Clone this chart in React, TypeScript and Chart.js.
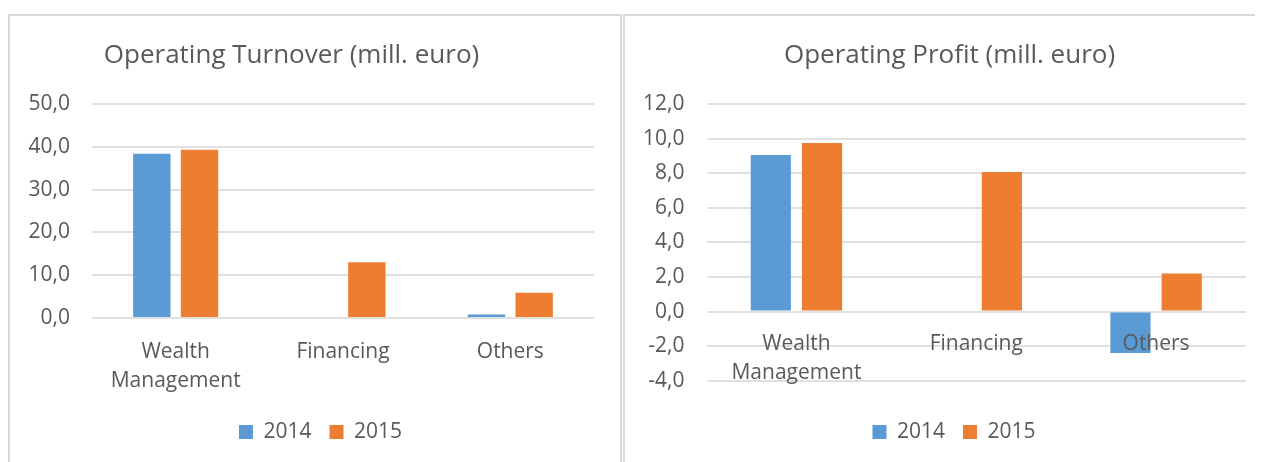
import React, { useEffect, useRef } from "react";
import { Chart, registerables } from "chart.js";

Chart.register(...registerables);

// ---- data ----
const categories: (string | string[])[] = [["Wealth", "Management"], "Financing", "Others"];
const seriesLabels = ["2014", "2015"];
const turnover2014: (number | null)[] = [38.4, null, 0.8];
const turnover2015: (number | null)[] = [39.3, 13.0, 5.9];
const profit2014: (number | null)[] = [9.05, null, -2.4];
const profit2015: (number | null)[] = [9.74, 8.07, 2.2];
const turnoverTicks = [0, 10, 20, 30, 40, 50];
const profitTicks = [-4, -2, 0, 2, 4, 6, 8, 10, 12];
const turnoverTitle = "Operating Turnover (mill. euro)";
const profitTitle = "Operating Profit (mill. euro)";

const BLUE = "#5B9BD5";
const ORANGE = "#ED7D31";
const TEXT = "#595959";
const GRID = "#E0E0E0";
const FONT = "'Open Sans', 'Noto Sans', sans-serif";

type ChartSpec = {
  d2014: (number | null)[];
  d2015: (number | null)[];
  ticks: number[];
  padLeft: number;
  padRight: number;
  yWidth: number;
  rightGap: number;
  xHeight: number;
  xPad: number;
  xAtZero: boolean;
};

function makeConfig(spec: ChartSpec): any {
  const min = spec.ticks[0];
  const max = spec.ticks[spec.ticks.length - 1];
  const step = spec.ticks[1] - spec.ticks[0];
  const scales: any = {
    x: {
      type: "category",
      position: spec.xAtZero ? { y: 0 } : "bottom",
      grid: { display: false, drawTicks: false },
      border: { display: false },
      ticks: {
        color: TEXT,
        font: { family: FONT, size: 21, lineHeight: 1.38 },
        padding: spec.xPad,
        maxRotation: 0,
        autoSkip: false,
        z: 1,
      },
      afterFit: (s: any) => {
        s.height = spec.xAtZero ? 0 : spec.xHeight;
      },
    },
    y: {
      type: "linear",
      position: "left",
      min,
      max,
      ticks: {
        stepSize: step,
        color: TEXT,
        font: { family: FONT, size: 21 },
        padding: 22,
        callback: (v: any) => Number(v).toFixed(1).replace(".", ","),
      },
      grid: { color: GRID, lineWidth: 2, drawTicks: false },
      border: { display: false },
      afterFit: (s: any) => {
        s.width = spec.yWidth;
      },
    },
    // empty spacer on the right side of the plot
    yGap: {
      type: "linear",
      position: "right",
      display: true,
      grid: { display: false, drawTicks: false },
      border: { display: false },
      ticks: { display: false },
      afterFit: (s: any) => {
        s.width = spec.rightGap;
      },
    },
  };
  if (spec.xAtZero) {
    // spacer axis reserving room between plot and legend
    scales.xSpace = {
      type: "category",
      position: "bottom",
      display: true,
      grid: { display: false, drawTicks: false },
      border: { display: false },
      ticks: { display: false },
      afterFit: (s: any) => {
        s.height = spec.xHeight;
      },
    };
  }
  return {
    type: "bar",
    data: {
      labels: categories,
      datasets: [
        {
          label: seriesLabels[0],
          data: spec.d2014,
          backgroundColor: BLUE,
          borderColor: BLUE,
          borderWidth: 0,
          categoryPercentage: 0.57,
          barPercentage: 0.784,
          xAxisID: "x",
          yAxisID: "y",
        },
        {
          label: seriesLabels[1],
          data: spec.d2015,
          backgroundColor: ORANGE,
          borderColor: ORANGE,
          borderWidth: 0,
          categoryPercentage: 0.57,
          barPercentage: 0.784,
          xAxisID: "x",
          yAxisID: "y",
        },
      ],
    },
    options: {
      animation: false,
      responsive: false,
      devicePixelRatio: 1,
      layout: { padding: { top: 88, right: spec.padRight, bottom: 9.5, left: spec.padLeft } },
      font: { family: FONT },
      scales,
      plugins: {
        title: { display: false },
        tooltip: { enabled: false },
        legend: {
          position: "bottom",
          labels: {
            boxWidth: 14,
            boxHeight: 14,
            padding: 18,
            color: TEXT,
            font: { family: FONT, size: 21 },
          },
        },
      },
    },
  };
}

function BarPanel(props: { spec: ChartSpec; width: number; height: number }) {
  const ref = useRef<HTMLCanvasElement | null>(null);
  useEffect(() => {
    if (!ref.current) return;
    const chart = new Chart(ref.current, makeConfig(props.spec));
    return () => chart.destroy();
  }, []);
  return (
    <canvas
      ref={ref}
      width={props.width}
      height={props.height}
      style={{ display: "block", width: props.width, height: props.height }}
    />
  );
}

const titleStyle = (cx: number): React.CSSProperties => ({
  position: "absolute",
  left: cx - 300,
  width: 600,
  top: 27.5,
  textAlign: "center",
  fontFamily: FONT,
  fontSize: 26,
  lineHeight: "34px",
  color: TEXT,
  whiteSpace: "nowrap",
});

export default function App() {
  const leftSpec: ChartSpec = {
    d2014: turnover2014,
    d2015: turnover2015,
    ticks: turnoverTicks,
    padLeft: 11,
    padRight: 0,
    yWidth: 71,
    rightGap: 26,
    xHeight: 85.5,
    xPad: 20,
    xAtZero: false,
  };
  const rightSpec: ChartSpec = {
    d2014: profit2014,
    d2015: profit2015,
    ticks: profitTicks,
    padLeft: 0,
    padRight: 2,
    yWidth: 81.5,
    rightGap: 37,
    xHeight: 22.8,
    xPad: 18,
    xAtZero: true,
  };
  return (
    <div style={{ position: "relative", width: 1255, height: 454, overflow: "hidden", background: "#fff" }}>
      <div
        style={{
          position: "absolute",
          left: 0,
          top: 6,
          width: 610,
          height: 470,
          border: "2px solid #D9D9D9",
          borderBottom: "none",
          overflow: "hidden",
        }}
      >
        <BarPanel spec={leftSpec} width={610} height={446} />
      </div>
      <div
        style={{
          position: "absolute",
          left: 615,
          top: 6,
          width: 660,
          height: 470,
          borderTop: "2px solid #D9D9D9",
          borderLeft: "2px solid #D9D9D9",
          overflow: "hidden",
        }}
      >
        <BarPanel spec={rightSpec} width={660} height={446} />
      </div>
      <div style={titleStyle(283.5)}>{turnoverTitle}</div>
      <div style={titleStyle(941.5)}>{profitTitle}</div>
    </div>
  );
}
